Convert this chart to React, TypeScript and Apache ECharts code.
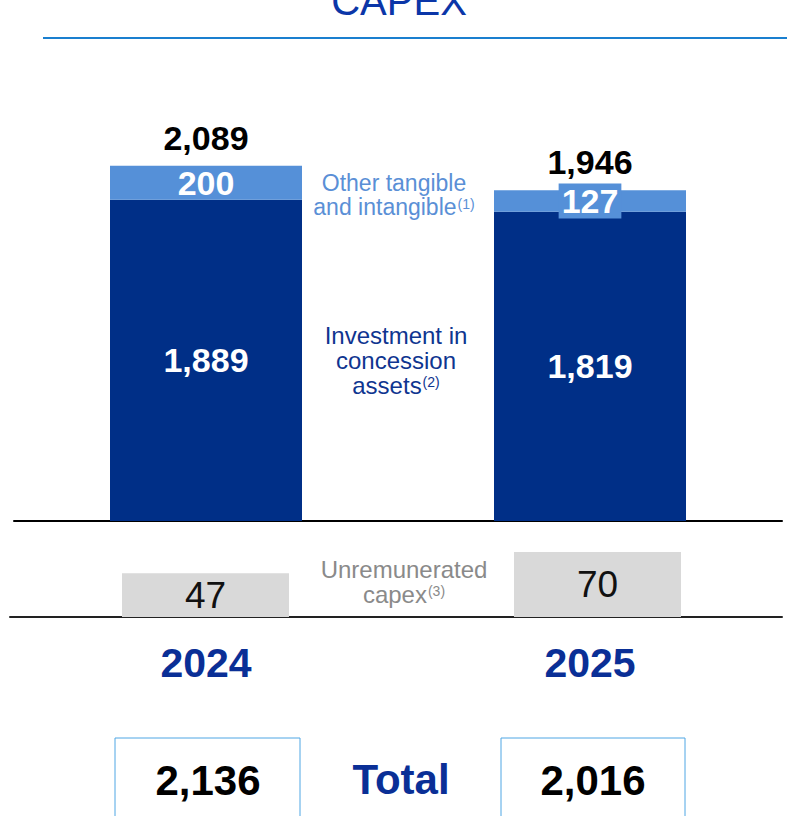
import React, { useEffect, useRef } from "react";
import * as echarts from "echarts";

const categories = ["2024", "2025"];
const concessionAssets = [1889, 1819];
const otherTangible = [200, 127];
const subtotals = [2089, 1946];
const unremunerated = [47, 70];
const totals = [2136, 2016];

const NAVY = "#002f87";
const LIGHT = "#5590d8";
const GRAY = "#d9d9d9";
const FONT = "Liberation Sans, Arial, sans-serif";

const fmt = (n: number) => n.toLocaleString("en-US");

export default function App() {
  const ref = useRef<HTMLDivElement>(null);

  useEffect(() => {
    if (!ref.current) return;
    const chart = echarts.init(ref.current, null, { renderer: "svg" });

    const txt = (x: number, y: number, text: string, size: number, color: string, weight = "normal", extra: any = {}) => ({
      type: "text",
      x,
      y,
      style: {
        text,
        fontSize: size,
        fontFamily: FONT,
        fontWeight: weight,
        fill: color,
        align: "center",
        verticalAlign: "middle",
        textAlign: "center",
        textVerticalAlign: "middle",
        ...extra,
      },
    });

    const note = (x: number, y: number, text: string, color: string, size: number, lh: number) => ({
      type: "text",
      x,
      y,
      style: {
        text,
        align: "center",
        verticalAlign: "middle",
        textAlign: "center",
        textVerticalAlign: "middle",
        fill: color,
        rich: {
          a: { fontSize: size, lineHeight: lh, fontFamily: FONT, fill: color, color },
          s: { fontSize: 14, lineHeight: lh, fontFamily: FONT, fill: color, color, padding: [0, 0, 7, 1] },
        },
      },
    });

    chart.setOption({
      animation: false,
      grid: [
        { left: 14, right: 5, top: 96, height: 425 },
        { left: 10, right: 5, top: 524, height: 93 },
      ],
      xAxis: [
        {
          type: "category",
          gridIndex: 0,
          data: categories,
          axisLine: { show: true, lineStyle: { color: "#000", width: 2 } },
          axisTick: { show: false },
          axisLabel: {
            show: true,
            margin: 121,
            fontSize: 41,
            fontWeight: "bold",
            fontFamily: FONT,
            color: "#0a2f96",
          },
        },
        {
          type: "value",
          gridIndex: 1,
          min: -0.4987,
          max: 1.4707,
          axisLine: { show: true, onZero: false, lineStyle: { color: "#222", width: 2 } },
          axisTick: { show: false },
          axisLabel: { show: false },
          splitLine: { show: false },
        },
      ],
      yAxis: [
        { type: "value", gridIndex: 0, min: 0, max: 2500, show: false, splitLine: { show: false } },
        { type: "value", gridIndex: 1, min: 0, max: 100, show: false, splitLine: { show: false } },
      ],
      series: [
        {
          name: "Investment in concession assets",
          type: "bar",
          stack: "capex",
          xAxisIndex: 0,
          yAxisIndex: 0,
          barWidth: 192,
          data: concessionAssets,
          itemStyle: { color: NAVY },
          label: {
            show: true,
            position: "inside",
            formatter: (p: any) => fmt(p.value),
            color: "#fff",
            fontSize: 34,
            fontWeight: "bold",
            fontFamily: FONT,
          },
        },
        {
          name: "Other tangible and intangible",
          type: "bar",
          stack: "capex",
          xAxisIndex: 0,
          yAxisIndex: 0,
          barWidth: 192,
          data: otherTangible.map((v, i) =>
            i === 1
              ? { value: v, label: { backgroundColor: LIGHT, padding: [0, 3], lineHeight: 35 } }
              : v
          ),
          itemStyle: { color: LIGHT },
          label: {
            show: true,
            position: "inside",
            formatter: (p: any) => fmt(p.value),
            color: "#fff",
            fontSize: 34,
            fontWeight: "bold",
            fontFamily: FONT,
          },
        },
        {
          name: "Subtotal",
          type: "bar",
          stack: "capex",
          xAxisIndex: 0,
          yAxisIndex: 0,
          barWidth: 192,
          data: categories.map(() => 0),
          itemStyle: { color: "transparent" },
          label: {
            show: true,
            position: "top",
            distance: 11,
            formatter: (p: any) => fmt(subtotals[p.dataIndex]),
            color: "#000",
            fontSize: 34,
            fontWeight: "bold",
            fontFamily: FONT,
          },
        },
        {
          name: "Unremunerated capex",
          type: "bar",
          xAxisIndex: 1,
          yAxisIndex: 1,
          barWidth: 167,
          data: unremunerated.map((v, i) => [i, v]),
          itemStyle: { color: GRAY },
          label: {
            show: true,
            position: "inside",
            formatter: (p: any) => String(p.value[1]),
            color: "#111",
            fontSize: 37,
            fontFamily: FONT,
          },
        },
      ],
      graphic: [
        txt(399, 1, "CAPEX", 40, "#0b36a8"),
        {
          type: "line",
          shape: { x1: 43, y1: 38, x2: 787, y2: 38 },
          style: { stroke: "#1a7fcf", lineWidth: 2 },
        },
        note(394, 195, "{a|Other tangible}\n{a|and intangible}{s|(1)}", "#5a8fd6", 23, 24),
        note(396, 360, "{a|Investment in}\n{a|concession}\n{a|assets}{s|(2)}", "#0f3590", 24, 25),
        note(404, 582, "{a|Unremunerated}\n{a|capex}{s|(3)}", "#8a8a8a", 24, 25),
        {
          type: "rect",
          shape: { x: 115, y: 738, width: 185, height: 100 },
          style: { fill: "none", stroke: "#4ea6e4", lineWidth: 1 },
        },
        {
          type: "rect",
          shape: { x: 501, y: 738, width: 184, height: 100 },
          style: { fill: "none", stroke: "#4ea6e4", lineWidth: 1 },
        },
        txt(208, 780, fmt(totals[0]), 42, "#000", "bold"),
        txt(401, 779, "Total", 42, "#0a2f96", "bold"),
        txt(593, 780, fmt(totals[1]), 42, "#000", "bold"),
      ],
    });

    return () => chart.dispose();
  }, []);

  return (
    <div
      ref={ref}
      style={{ position: "absolute", left: 0, top: 0, width: 787, height: 816 }}
    />
  );
}
